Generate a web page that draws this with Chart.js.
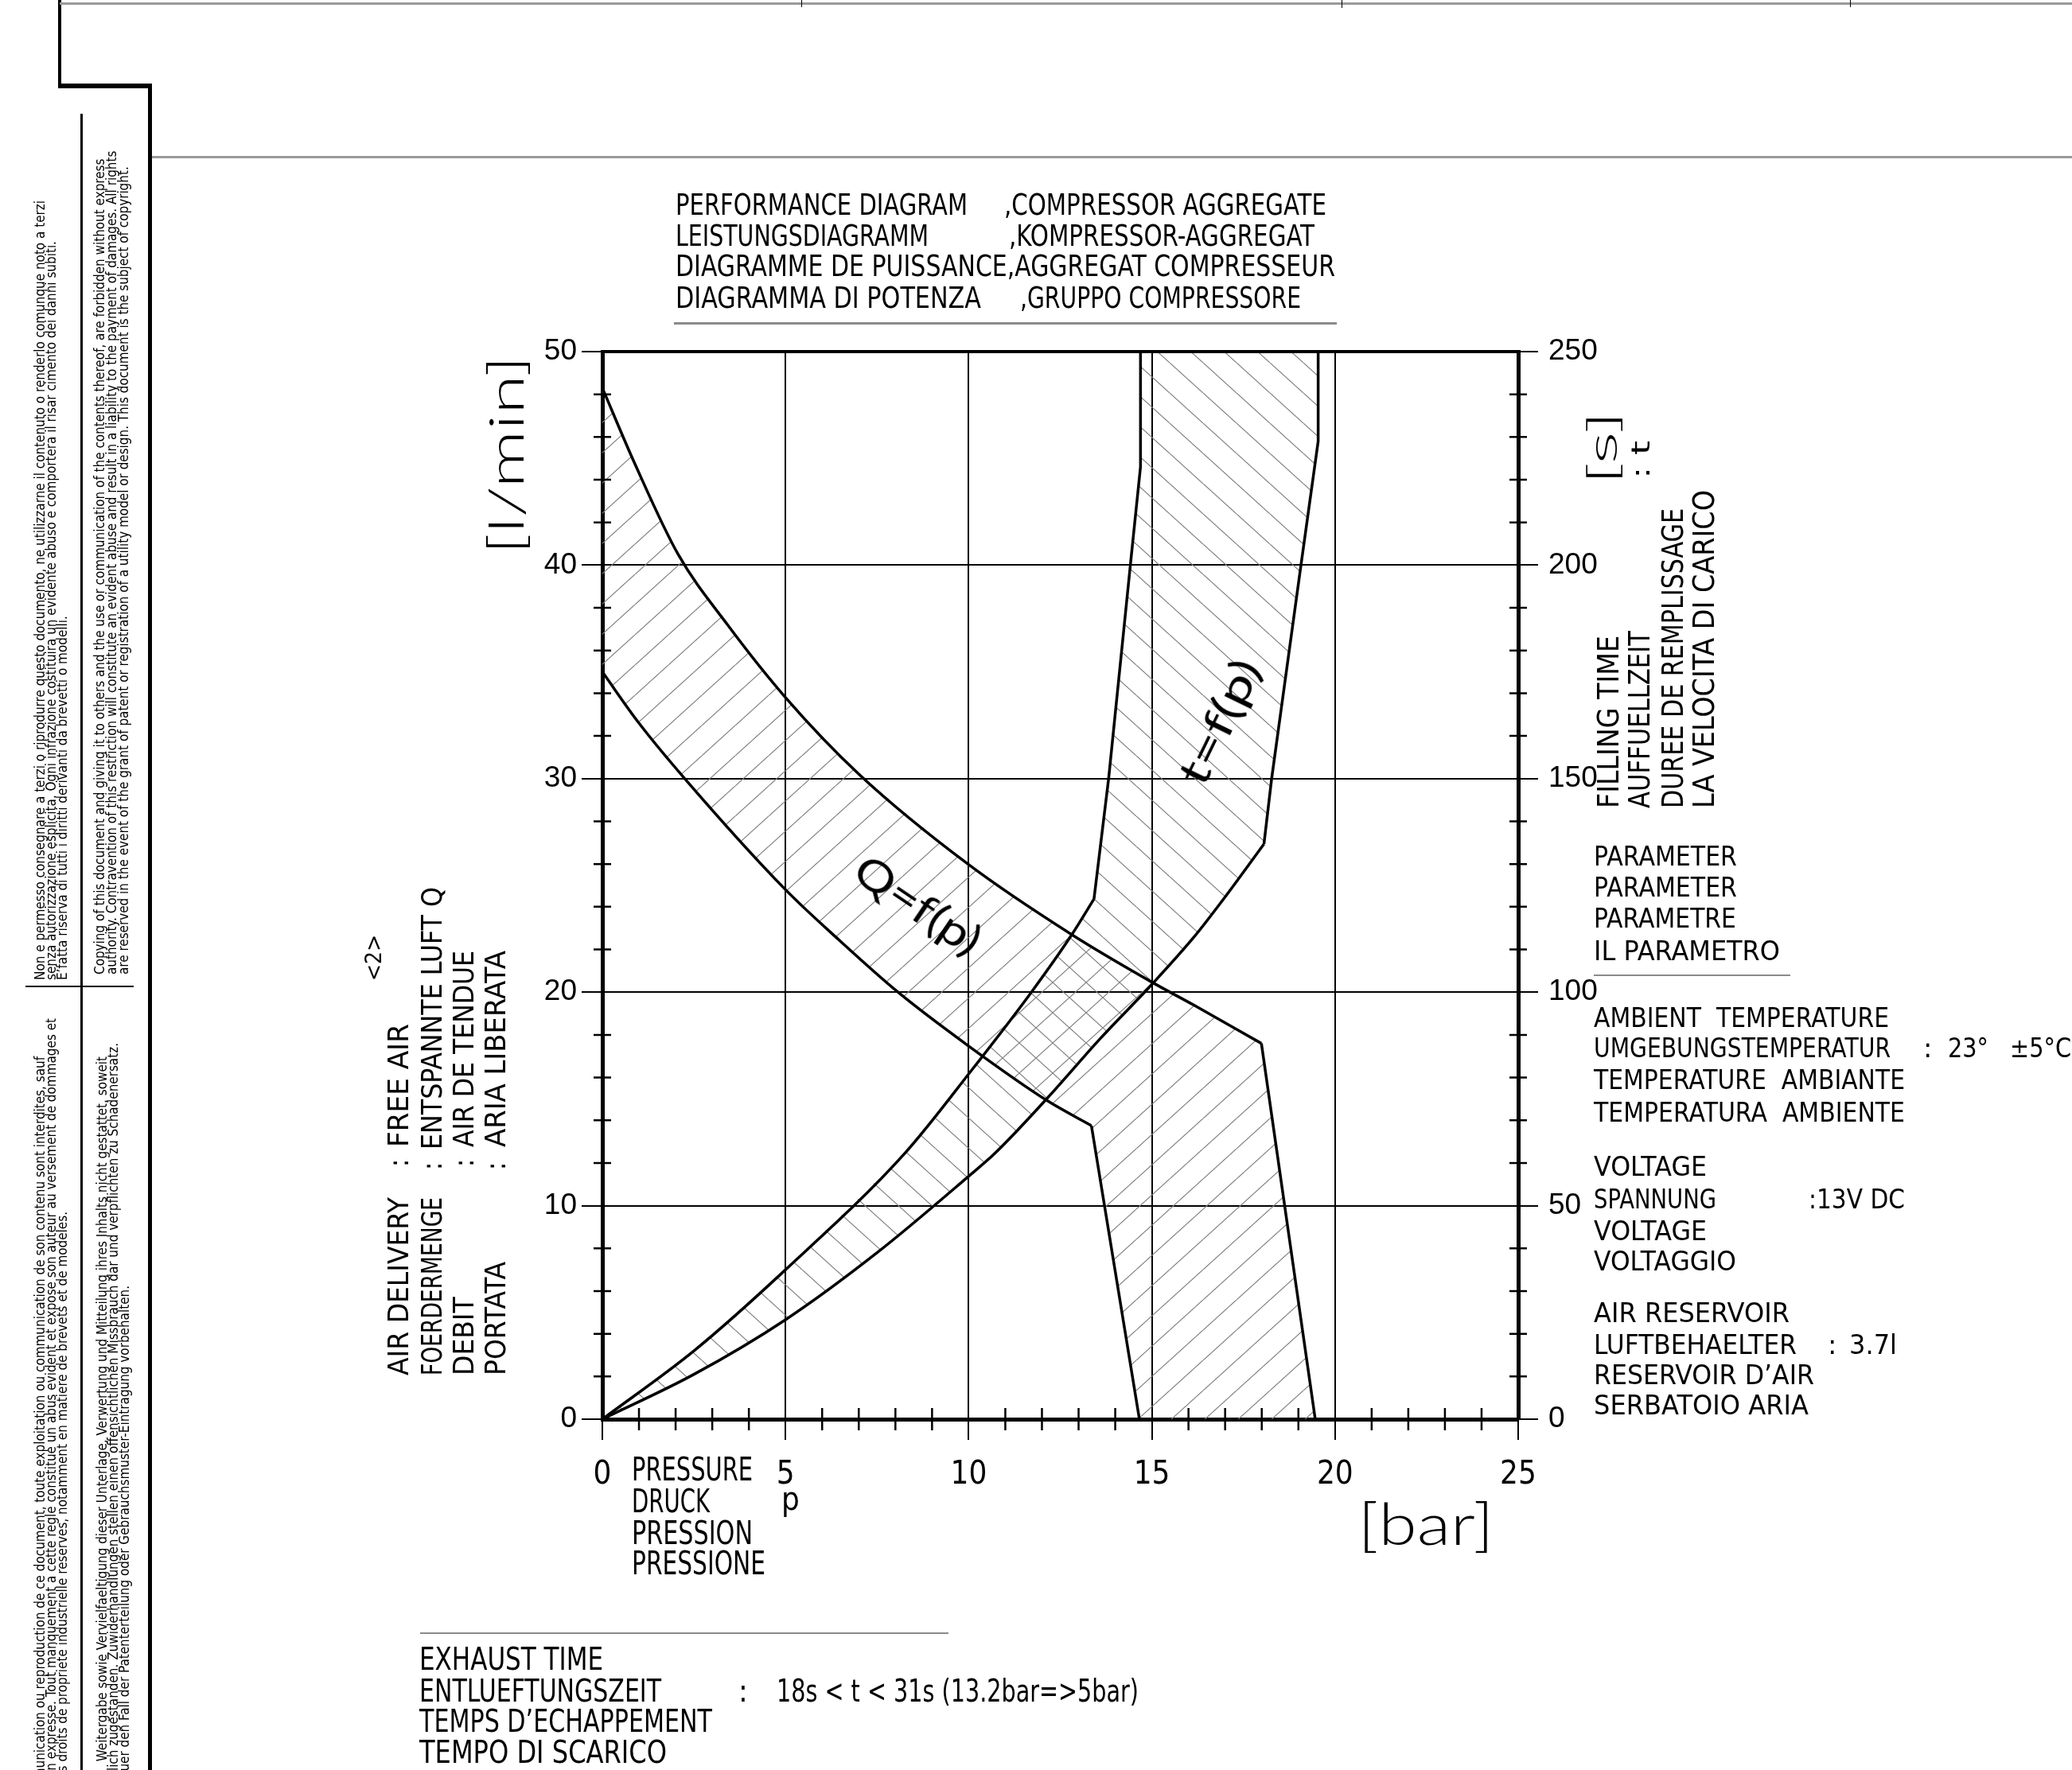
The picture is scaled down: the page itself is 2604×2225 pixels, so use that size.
<!DOCTYPE html>
<html><head><meta charset="utf-8">
<script src="https://cdn.jsdelivr.net/npm/chart.js@4.4.1/dist/chart.umd.min.js"></script>
<style>
html,body{margin:0;padding:0;background:#fff;}
#page{position:relative;width:2604px;height:2225px;overflow:hidden;background:#fff;}
#c{position:absolute;left:0;top:0;width:2604px;height:2225px;}
.t{position:absolute;white-space:pre;line-height:1;color:#000;transform-origin:0 0;}
.ln{position:absolute;}
</style></head>
<body><div id="page"><canvas id="c" width="2604" height="2225"></canvas></div>
<script>
// ---------------- DATA ----------------
const pressureTicks = [0, 5, 10, 15, 20, 25];          // bar
const flowTicks     = [0, 10, 20, 30, 40, 50];         // l/min
const timeTicks     = [0, 50, 100, 150, 200, 250];     // s
const minorStepP = 1, minorStepQ = 2, minorStepT = 10;

// Q = f(p) band (air delivery, l/min)
const qUpperP = [0, 0.9, 2.07, 3.42, 5, 7.01, 9.98, 12.81, 15.02, 16.14, 17.99, 19.46];
const qUpperQ = [48.3, 44.7, 40.5, 37.2, 33.8, 30.2, 26.0, 22.7, 20.45, 19.4, 17.6, 0];
const qLowerP = [0, 1, 2.25, 5, 6.36, 8.07, 9.98, 12.16, 13.35, 14.66];
const qLowerQ = [35, 32.6, 30.0, 24.8, 22.6, 20.0, 17.5, 14.9, 13.75, 0];

// t = f(p) band (filling time, s)
const tUpperP = [0, 2.5, 5, 8.25, 10.06, 11.72, 12.81, 13.42, 13.82, 14.43, 14.69, 14.69];
const tUpperT = [0, 16, 35, 62.2, 81.5, 100.1, 113.4, 121.8, 150, 201.4, 223, 250];
const tLowerP = [0, 2.5, 5, 7.5, 10, 10.71, 12.16, 13.6, 15.02, 16.14, 16.93, 18.06, 18.27, 19.07, 19.54, 19.54];
const tLowerT = [0, 10.5, 23.3, 39, 56.9, 62.2, 75.3, 89.2, 102, 112.8, 121.5, 134.7, 150, 200, 229, 250];

// index of the corner where each curve turns into straight segments
const qUpperKink = 10, qLowerKink = 8, tUpperKink = 7, tLowerKink = 11;

// ---------------- HELPERS ----------------
const NARROW = "'Liberation Sans Narrow','DejaVu Sans Condensed','Liberation Sans',Arial,sans-serif";
const WIDE = "'DejaVu Sans','Liberation Sans',sans-serif";
const LIGHT = "'Lato','Open Sans','DejaVu Sans',sans-serif";
const page = document.getElementById('page');

function pts(px, py) { return px.map((p, i) => ({x: p, y: py[i]})); }
function part(px, py, i0, i1) { return pts(px.slice(i0, i1 + 1), py.slice(i0, i1 + 1)); }
function rev(a) { return a.slice().reverse(); }

function hatch(ctx, dir) {
  const w = 42, h = 38;
  const c = document.createElement('canvas'); c.width = w; c.height = h;
  const g = c.getContext('2d');
  g.strokeStyle = '#808080'; g.lineWidth = 1.2;
  g.beginPath();
  for (const k of [-1, 0, 1]) {
    if (dir > 0) { g.moveTo(k * w, h); g.lineTo(k * w + w, 0); }
    else { g.moveTo(k * w, 0); g.lineTo(k * w + w, h); }
  }
  g.stroke();
  return ctx.createPattern(c, 'repeat');
}

function L(x, y, w, h, c) {
  const d = document.createElement('div');
  d.className = 'ln';
  d.style.cssText = `left:${x}px;top:${y}px;width:${w}px;height:${h}px;background:${c};`;
  page.appendChild(d);
}

function T(str, x, y, size, w, o = {}) {
  const d = document.createElement('div');
  d.className = 't';
  d.textContent = str;
  d.style.fontFamily = o.f || NARROW;
  d.style.fontSize = size + 'px';
  d.style.fontWeight = o.wt || 'normal';
  if (o.c) d.style.color = o.c;
  d.style.left = x + 'px';
  d.style.top = y + 'px';
  page.appendChild(d);
  const nat = d.getBoundingClientRect().width;
  const s = o.s || (w ? w / nat : 1);
  const ax = o.ax || 0;
  d.style.transform = `rotate(${o.r || 0}deg) scaleX(${s}) translate(${-ax * nat}px, ${-size / 2}px)`;
  return s;
}

// ---------------- CHART ----------------
const canvas = document.getElementById('c');
const ctx = canvas.getContext('2d');
const qPoly = pts(qUpperP, qUpperQ).concat(rev(pts(qLowerP, qLowerQ)));
const tPoly = pts(tLowerP, tLowerT).concat(rev(pts(tUpperP, tUpperT)));

const minorTicks = {
  id: 'minorTicks',
  afterDraw(chart) {
    const {ctx: g, chartArea: a, scales: {x, y, y2}} = chart;
    g.save();
    g.strokeStyle = '#000'; g.lineWidth = 2.5;
    g.beginPath();
    for (let v = x.min + minorStepP; v < x.max; v += minorStepP) {
      if (pressureTicks.includes(v)) continue;
      const p = x.getPixelForValue(v);
      g.moveTo(p, a.bottom - 14); g.lineTo(p, a.bottom + 14);
    }
    for (let v = y.min + minorStepQ; v < y.max; v += minorStepQ) {
      if (flowTicks.includes(v)) continue;
      const p = y.getPixelForValue(v);
      g.moveTo(a.left - 11, p); g.lineTo(a.left + 11, p);
    }
    for (let v = y2.min + minorStepT; v < y2.max; v += minorStepT) {
      if (timeTicks.includes(v)) continue;
      const p = y2.getPixelForValue(v);
      g.moveTo(a.right - 11, p); g.lineTo(a.right + 11, p);
    }
    g.stroke();
    g.lineWidth = 4;
    g.beginPath(); g.moveTo(a.left, a.top); g.lineTo(a.right, a.top); g.stroke();
    g.restore();
  }
};

const areaStyle = {borderWidth: 0, borderColor: 'transparent', fill: 'shape', pointRadius: 0, pointHoverRadius: 0, tension: 0};
const curveStyle = {borderColor: '#000', borderWidth: 3.5, fill: false, pointRadius: 0, pointHoverRadius: 0,
                    cubicInterpolationMode: 'monotone', borderJoinStyle: 'round'};
const edgeStyle = {borderColor: '#000', borderWidth: 3.5, fill: false, pointRadius: 0, pointHoverRadius: 0,
                   tension: 0, borderJoinStyle: 'round'};

const tickFontY = {family: "'Liberation Sans',Arial,sans-serif", size: 37};
new Chart(ctx, {
  type: 'line',
  data: {
    datasets: [
      Object.assign({label: 'Q band', data: qPoly, yAxisID: 'y', backgroundColor: hatch(ctx, 1)}, areaStyle),
      Object.assign({label: 't band', data: tPoly, yAxisID: 'y2', backgroundColor: hatch(ctx, -1)}, areaStyle),
      Object.assign({label: 'Q max', data: part(qUpperP, qUpperQ, 0, qUpperKink), yAxisID: 'y'}, curveStyle),
      Object.assign({label: 'Q max end', data: part(qUpperP, qUpperQ, qUpperKink, qUpperP.length - 1), yAxisID: 'y'}, edgeStyle),
      Object.assign({label: 'Q min', data: part(qLowerP, qLowerQ, 0, qLowerKink), yAxisID: 'y'}, curveStyle),
      Object.assign({label: 'Q min end', data: part(qLowerP, qLowerQ, qLowerKink, qLowerP.length - 1), yAxisID: 'y'}, edgeStyle),
      Object.assign({label: 't max', data: part(tUpperP, tUpperT, 0, tUpperKink), yAxisID: 'y2'}, curveStyle),
      Object.assign({label: 't max end', data: part(tUpperP, tUpperT, tUpperKink, tUpperP.length - 1), yAxisID: 'y2'}, edgeStyle),
      Object.assign({label: 't min', data: part(tLowerP, tLowerT, 0, tLowerKink), yAxisID: 'y2'}, curveStyle),
      Object.assign({label: 't min end', data: part(tLowerP, tLowerT, tLowerKink, tLowerP.length - 1), yAxisID: 'y2'}, edgeStyle)
    ]
  },
  options: {
    responsive: false, animation: false, devicePixelRatio: 1, events: [],
    layout: {padding: {top: 442, left: 0, right: 0, bottom: 0}},
    plugins: {legend: {display: false}, tooltip: {enabled: false}, filler: {drawTime: 'beforeDatasetsDraw'}},
    scales: {
      x: {
        type: 'linear', position: 'bottom', min: pressureTicks[0], max: pressureTicks[pressureTicks.length - 1],
        afterBuildTicks: s => { s.ticks = pressureTicks.map(v => ({value: v})); },
        afterFit: s => { s.height = 441; },
        ticks: {color: '#000', font: {family: NARROW, size: 40}, padding: 21, maxRotation: 0},
        grid: {color: '#000', lineWidth: 2, tickLength: 26},
        border: {color: '#000', width: 5}
      },
      y: {
        type: 'linear', position: 'left', min: flowTicks[0], max: flowTicks[flowTicks.length - 1],
        afterBuildTicks: s => { s.ticks = flowTicks.map(v => ({value: v})); },
        afterFit: s => { s.width = 757; },
        ticks: {color: '#000', font: tickFontY, padding: 6},
        grid: {color: '#000', lineWidth: 2, tickLength: 26},
        border: {color: '#000', width: 5}
      },
      y2: {
        type: 'linear', position: 'right', min: timeTicks[0], max: timeTicks[timeTicks.length - 1],
        afterBuildTicks: s => { s.ticks = timeTicks.map(v => ({value: v})); },
        afterFit: s => { s.width = 696; },
        ticks: {color: '#000', font: tickFontY, padding: 13},
        grid: {color: '#000', lineWidth: 2, tickLength: 25, drawOnChartArea: false},
        border: {color: '#000', width: 5}
      }
    }
  },
  plugins: [minorTicks]
});

// ---------------- FRAME ----------------
L(73, 0, 4, 110, '#000');
L(73, 105, 118, 6, '#000');
L(186, 105, 5, 2120, '#000');
L(75, 3, 2529, 3, '#9a9a9a');
L(1007, 0, 1, 9, '#000'); L(1686, 0, 1, 10, '#000'); L(2325, 0, 1, 9, '#000');
L(191, 196, 2413, 3, '#9a9a9a');
L(101, 143, 3, 2082, '#000');
L(32, 1239, 136, 2, '#000');

// ---------------- TEXTS ----------------
// title
T('PERFORMANCE DIAGRAM', 849, 257, 38, 367);
T(',COMPRESSOR AGGREGATE', 1262, 257, 38, 405);
T('LEISTUNGSDIAGRAMM', 849, 296, 38, 318);
T(',KOMPRESSOR-AGGREGAT', 1268, 296, 38, 384);
T('DIAGRAMME DE PUISSANCE,AGGREGAT COMPRESSEUR', 849, 334, 38, 829);
T('DIAGRAMMA DI POTENZA', 849, 374, 38, 384);
T(',GRUPPO COMPRESSORE', 1282, 374, 38, 353);
L(847, 405, 833, 3, '#8a8a8a');

// left axis title + description
T('[l/min]', 634, 572, 62, 250, {r: -90, ax: 0.5, f: LIGHT, wt: 300});
const sA = T('AIR DELIVERY', 501, 1729, 35, 224, {r: -90});
T(':', 501, 1462, 35, 0, {r: -90, ax: 0.5});
T('FREE AIR', 501, 1442, 35, 155, {r: -90});
T('FOERDERMENGE', 543, 1729, 35, 224, {r: -90});
T(':', 543, 1466, 35, 0, {r: -90, ax: 0.5});
T('ENTSPANNTE LUFT Q', 543, 1445, 35, 330, {r: -90});
T('DEBIT', 583, 1729, 35, 0, {r: -90, s: sA});
T(':', 583, 1462, 35, 0, {r: -90, ax: 0.5});
T('AIR DE TENDUE', 583, 1442, 35, 247, {r: -90});
T('PORTATA', 623, 1729, 35, 143, {r: -90});
T(':', 623, 1466, 35, 0, {r: -90, ax: 0.5});
T('ARIA LIBERATA', 623, 1442, 35, 247, {r: -90});
T('<2>', 470, 1204, 28, 0, {r: -90, ax: 0.5});

// right axis title + description
T('[s]', 2012, 563, 52, 93, {r: -90, ax: 0.5, f: LIGHT, wt: 300});
T(': t', 2062, 602, 32, 48, {r: -90});
T('FILLING TIME', 2021, 1016, 37, 217, {r: -90});
T('AUFFUELLZEIT', 2060, 1016, 37, 223, {r: -90});
T('DUREE DE REMPLISSAGE', 2102, 1016, 37, 377, {r: -90});
T('LA VELOCITA DI CARICO', 2141, 1016, 37, 400, {r: -90});

// parameter block
T('PARAMETER', 2003, 1076, 34, 180, {f: WIDE});
T('PARAMETER', 2003, 1115, 34, 180, {f: WIDE});
T('PARAMETRE', 2003, 1154, 34, 179, {f: WIDE});
T('IL PARAMETRO', 2003, 1195, 34, 234, {f: WIDE});
L(2003, 1225, 247, 2, '#8a8a8a');
T('AMBIENT  TEMPERATURE', 2003, 1279, 34, 371, {f: WIDE});
T('UMGEBUNGSTEMPERATUR', 2003, 1317, 34, 373, {f: WIDE});
T(':', 2417, 1317, 34, 0, {f: WIDE});
T('23°', 2448, 1317, 34, 51, {f: WIDE});
T('±5°C', 2526, 1317, 34, 0, {f: WIDE, s: 0.85});
T('TEMPERATURE  AMBIANTE', 2003, 1357, 34, 391, {f: WIDE});
T('TEMPERATURA  AMBIENTE', 2003, 1398, 34, 391, {f: WIDE});
T('VOLTAGE', 2003, 1466, 34, 142, {f: WIDE});
T('SPANNUNG', 2003, 1507, 34, 154, {f: WIDE});
T(':13V DC', 2273, 1507, 34, 121, {f: WIDE});
T('VOLTAGE', 2003, 1547, 34, 142, {f: WIDE});
T('VOLTAGGIO', 2003, 1585, 34, 179, {f: WIDE});
T('AIR RESERVOIR', 2003, 1650, 34, 246, {f: WIDE});
T('LUFTBEHAELTER', 2003, 1690, 34, 255, {f: WIDE});
T(':', 2297, 1690, 34, 0, {f: WIDE});
T('3.7l', 2324, 1690, 34, 60, {f: WIDE});
T('RESERVOIR D’AIR', 2003, 1728, 34, 277, {f: WIDE});
T('SERBATOIO ARIA', 2003, 1766, 34, 270, {f: WIDE});

// x axis title
T('PRESSURE', 794, 1847, 40, 152);
T('DRUCK', 794, 1887, 40, 98);
T('PRESSION', 794, 1927, 40, 152);
T('PRESSIONE', 794, 1965, 40, 168);
T('p', 982, 1884, 40, 0);
T('[bar]', 1792, 1914, 72, 171, {ax: 0.5, f: LIGHT, wt: 300});

// exhaust block
L(528, 2052, 664, 2, '#8a8a8a');
T('EXHAUST TIME', 527, 2085, 39, 231);
T('ENTLUEFTUNGSZEIT', 527, 2125, 39, 304);
T(':', 928, 2125, 39, 0);
T('18s < t < 31s (13.2bar=>5bar)', 976, 2125, 39, 455);
T('TEMPS D’ECHAPPEMENT', 527, 2163, 39, 368);
T('TEMPO DI SCARICO', 527, 2202, 39, 311);

// curve labels
T('Q=f(p)', 1154, 1137, 54, 180, {r: 34, ax: 0.5, f: LIGHT});
T('t=f(p)', 1532, 907, 54, 168, {r: -64, ax: 0.5, f: LIGHT});

// legal strip
const sL = T('Non e permesso consegnare a terzi o riprodurre questo documento, ne utilizzarne il contenuto o renderlo comunque noto a terzi', 50, 1232, 17, 980, {r: -90});
const LG = {r: -90, s: sL};
T('senza autorizzazione esplicita. Ogni infrazione costituira un evidente abuso e comportera il risar cimento dei danni subiti.', 64, 1232, 17, 0, LG);
T('E’fatta riserva di tutti i diritti derivanti da brevetti o modelli.', 78, 1232, 17, 0, LG);
T('Copying of this document and giving it to others and the use or communication of the contents thereof, are forbidden without express', 125, 1225, 17, 0, LG);
T('authority. Contravention of this restriction will constitute an evident abuse and result in a liability to the payment of damages. All rights', 140, 1225, 17, 0, LG);
T('are reserved in the event of the grant of patent or registration of a utility model or design. This document is the subject of copyright.', 155, 1225, 17, 0, LG);
const LGE = {r: -90, ax: 1, s: sL};
T('Toute communication ou reproduction de ce document, toute exploitation ou communication de son contenu sont interdites, sauf', 50, 1328, 17, 0, LGE);
T('autorisation expresse. Tout manquement a cette regle constitue un abus evident et expose son auteur au versement de dommages et', 64, 1280, 17, 0, LGE);
T('interets. Tous droits de propriete industrielle reserves, notamment en matiere de brevets et de modeles.', 78, 1523, 17, 0, LGE);
T('Weitergabe sowie Vervielfaeltigung dieser Unterlage, Verwertung und Mitteilung ihres Inhalts nicht gestattet, soweit', 128, 1328, 17, 0, LGE);
T('nicht ausdruecklich zugestanden. Zuwiderhandlungen stellen einen offensichtlichen Missbrauch dar und verpflichten zu Schadenersatz.', 142, 1311, 17, 0, LGE);
T('Alle Rechte fuer den Fall der Patenterteilung oder Gebrauchsmuster-Eintragung vorbehalten.', 156, 1616, 17, 0, LGE);
</script>
</body></html>
